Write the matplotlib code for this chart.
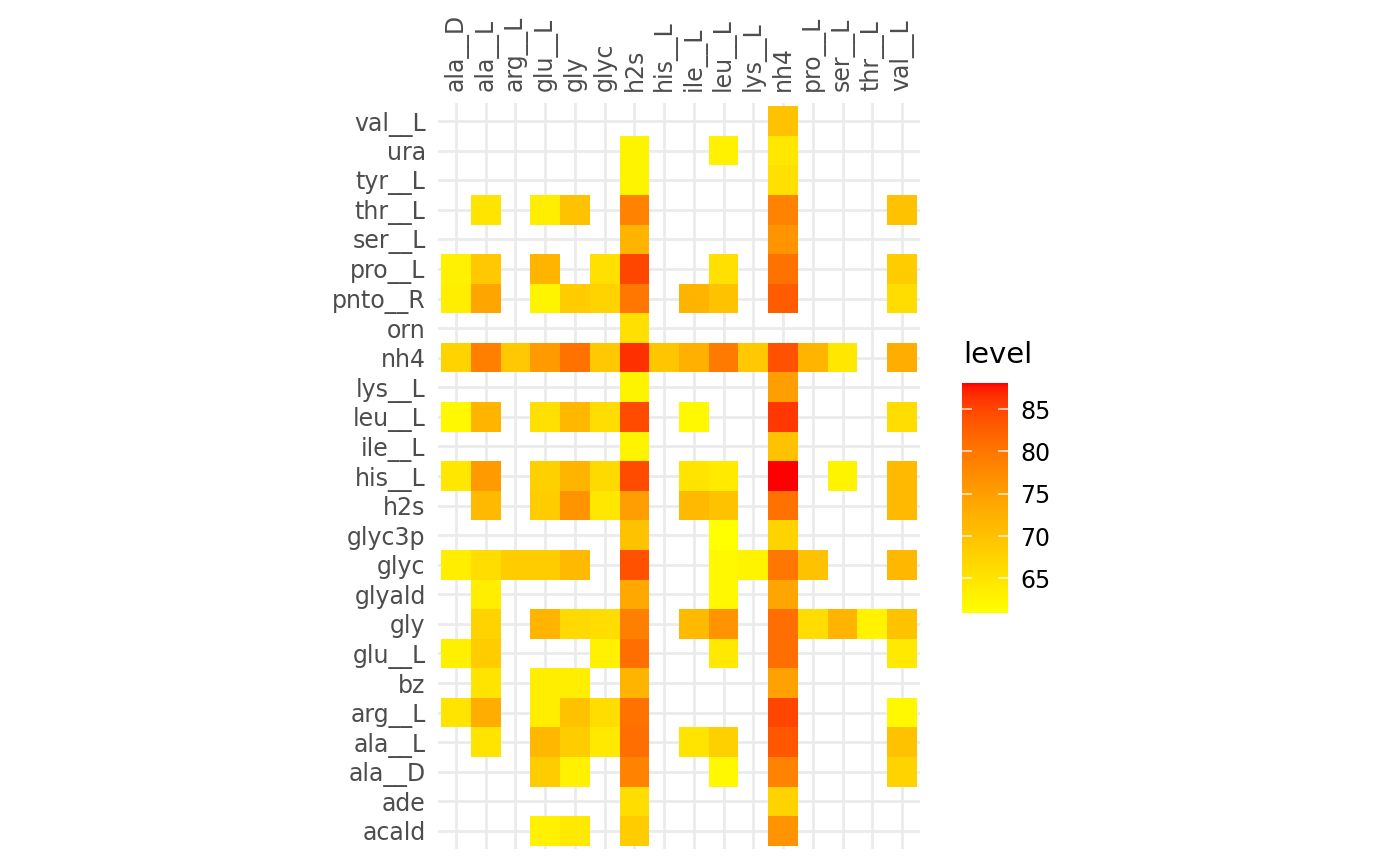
import numpy as np
import matplotlib
matplotlib.use("Agg")
import matplotlib.pyplot as plt
from matplotlib.colors import ListedColormap, Normalize

N = None

columns = ["ala__D", "ala__L", "arg__L", "glu__L", "gly", "glyc", "h2s", "his__L",
           "ile__L", "leu__L", "lys__L", "nh4", "pro__L", "ser__L", "thr__L", "val__L"]

# rows listed bottom to top
rows = ["acald", "ade", "ala__D", "ala__L", "arg__L", "bz", "glu__L", "gly", "glyald",
        "glyc", "glyc3p", "h2s", "his__L", "ile__L", "leu__L", "lys__L", "nh4", "orn",
        "pnto__R", "pro__L", "ser__L", "thr__L", "tyr__L", "ura", "val__L"]

levels = [
    [N, N, N, 63.0, 64.2, N, 68.5, N, N, N, N, 76.5, N, N, N, N],           # acald
    [N, N, N, N, N, N, 66.0, N, N, N, N, 67.5, N, N, N, N],                 # ade
    [N, N, N, 68.5, 63.0, N, 78.5, N, N, 62.0, N, 78.5, N, N, N, 67.5],     # ala__D
    [N, 65.0, N, 71.5, 68.5, 64.2, 81.0, N, 65.0, 68.0, N, 83.5, N, N, N, 70.0],  # ala__L
    [65.0, 73.0, N, 63.5, 70.0, 66.0, 80.5, N, N, N, N, 85.0, N, N, N, 62.0],     # arg__L
    [N, 65.0, N, 63.5, 63.5, N, 72.0, N, N, N, N, 74.5, N, N, N, N],        # bz
    [63.2, 68.5, N, N, N, 63.0, 81.0, N, N, 64.2, N, 81.0, N, N, N, 64.2],  # glu__L
    [N, 67.5, N, 72.0, 66.5, 66.0, 79.0, N, 71.0, 76.5, N, 81.0, 66.0, 72.0, 62.8, 70.0],  # gly
    [N, 63.5, N, N, N, N, 73.5, N, N, 62.0, N, 74.0, N, N, N, N],           # glyald
    [63.5, 66.0, 68.5, 68.5, 71.0, N, 84.0, N, N, 62.0, 62.5, 80.0, 70.0, N, N, 71.5],  # glyc
    [N, N, N, N, N, N, 70.0, N, N, 60.9, N, 67.5, N, N, N, N],              # glyc3p
    [N, 71.0, N, 68.5, 76.5, 64.5, 75.0, N, 71.0, 70.0, N, 80.5, N, N, N, 71.0],  # h2s
    [64.5, 75.5, N, 68.0, 72.0, 66.5, 84.5, N, 65.0, 64.0, N, 88.1, N, 62.5, N, 71.0],  # his__L
    [N, N, N, N, N, N, 62.5, N, N, N, N, 70.0, N, N, N, N],                 # ile__L
    [62.0, 72.0, N, 65.5, 71.5, 66.0, 84.5, N, 62.0, N, N, 86.0, N, N, N, 66.0],  # leu__L
    [N, N, N, N, N, N, 62.5, N, N, N, N, 75.0, N, N, N, N],                 # lys__L
    [67.5, 79.0, 69.0, 75.5, 80.5, 69.0, 86.5, 69.5, 72.5, 79.5, 69.0, 84.0, 72.0, 64.5, N, 73.0],  # nh4
    [N, N, N, N, N, N, 65.5, N, N, N, N, N, N, N, N, N],                    # orn
    [63.5, 74.0, N, 62.5, 68.5, 67.5, 80.0, N, 72.0, 70.0, N, 83.0, N, N, N, 66.0],  # pnto__R
    [63.0, 69.0, N, 72.0, N, 65.5, 85.0, N, N, 65.5, N, 80.5, N, N, N, 68.5],  # pro__L
    [N, N, N, N, N, N, 72.0, N, N, N, N, 76.5, N, N, N, N],                 # ser__L
    [N, 65.0, N, 63.5, 70.0, N, 78.5, N, N, N, N, 78.5, N, N, N, 70.0],     # thr__L
    [N, N, N, N, N, N, 62.5, N, N, N, N, 65.5, N, N, N, N],                 # tyr__L
    [N, N, N, N, N, N, 62.5, N, N, 63.0, N, 64.5, N, N, N, N],              # ura
    [N, N, N, N, N, N, N, N, N, N, N, 70.0, N, N, N, N],                    # val__L
]

legend_ticks = [65, 70, 75, 80, 85]


# yellow -> red gradient interpolated in CIELAB (like ggplot's scale_fill_gradient)
def lab_to_rgb(L, a, b):
    fy = (L + 16) / 116
    fx = fy + a / 500
    fz = fy - b / 200

    def finv(t):
        return np.where(t ** 3 > 0.008856, t ** 3, (t - 16 / 116) / 7.787)

    X = 0.95047 * finv(fx)
    Y = finv(fy)
    Z = 1.08883 * finv(fz)
    r = 3.2406 * X - 1.5372 * Y - 0.4986 * Z
    g = -0.9689 * X + 1.8758 * Y + 0.0415 * Z
    bl = 0.0557 * X - 0.2040 * Y + 1.0570 * Z
    rgb = np.stack([r, g, bl], axis=1)
    rgb = np.where(rgb > 0.0031308, 1.055 * np.abs(rgb) ** (1 / 2.4) - 0.055, 12.92 * rgb)
    return np.clip(rgb, 0, 1)


t = np.linspace(0, 1, 256)
yellow_lab = np.array([97.14, -21.55, 94.48])
red_lab = np.array([53.24, 80.09, 67.20])
lab = yellow_lab[None, :] * (1 - t[:, None]) + red_lab[None, :] * t[:, None]
cmap = ListedColormap(lab_to_rgb(lab[:, 0], lab[:, 1], lab[:, 2]))

grid = np.array([[np.nan if v is None else v for v in r] for r in levels], dtype=float)
data = np.ma.masked_invalid(grid)
norm = Normalize(vmin=np.nanmin(grid), vmax=np.nanmax(grid))

fig = plt.figure(figsize=(14, 8.65), dpi=100)
ax = fig.add_axes([438.2 / 1400, 16.3 / 865, 481.6 / 1400, 745.4 / 865])

mesh = ax.pcolormesh(np.arange(len(columns)), np.arange(len(rows)), data,
                     cmap=cmap, norm=norm, shading="nearest", antialiased=False, zorder=2)

ax.set_xlim(-0.6, len(columns) - 0.4)
ax.set_ylim(-0.6, len(rows) - 0.4)
ax.set_xticks(np.arange(len(columns)))
ax.set_yticks(np.arange(len(rows)))
ax.set_xticklabels(columns, rotation=90)
ax.set_yticklabels(rows)
ax.xaxis.tick_top()
ax.tick_params(axis="both", length=0, labelsize=17, labelcolor="#4D4D4D")
ax.tick_params(axis="x", pad=9)
ax.tick_params(axis="y", pad=9)
ax.grid(True, color="#EBEBEB", linewidth=2.0, zorder=0)
ax.set_axisbelow(True)
for s in ax.spines.values():
    s.set_visible(False)

# legend colourbar
cax = fig.add_axes([962 / 1400, (865 - 613) / 865, 46 / 1400, 230 / 865])
cb = fig.colorbar(mesh, cax=cax)
cb.outline.set_visible(False)
cb.set_ticks(legend_ticks)
cax.tick_params(length=0, labelsize=17, labelcolor="black", pad=9)
for v in legend_ticks:
    cax.plot([0, 0.2], [v, v], color="white", alpha=0.7, linewidth=1.3)
    cax.plot([0.8, 1], [v, v], color="white", alpha=0.7, linewidth=1.3)
fig.text(963 / 1400, 1 - 355 / 865, "level", fontsize=21, color="black",
         ha="left", va="center")

fig.savefig("out.png", dpi=100)
